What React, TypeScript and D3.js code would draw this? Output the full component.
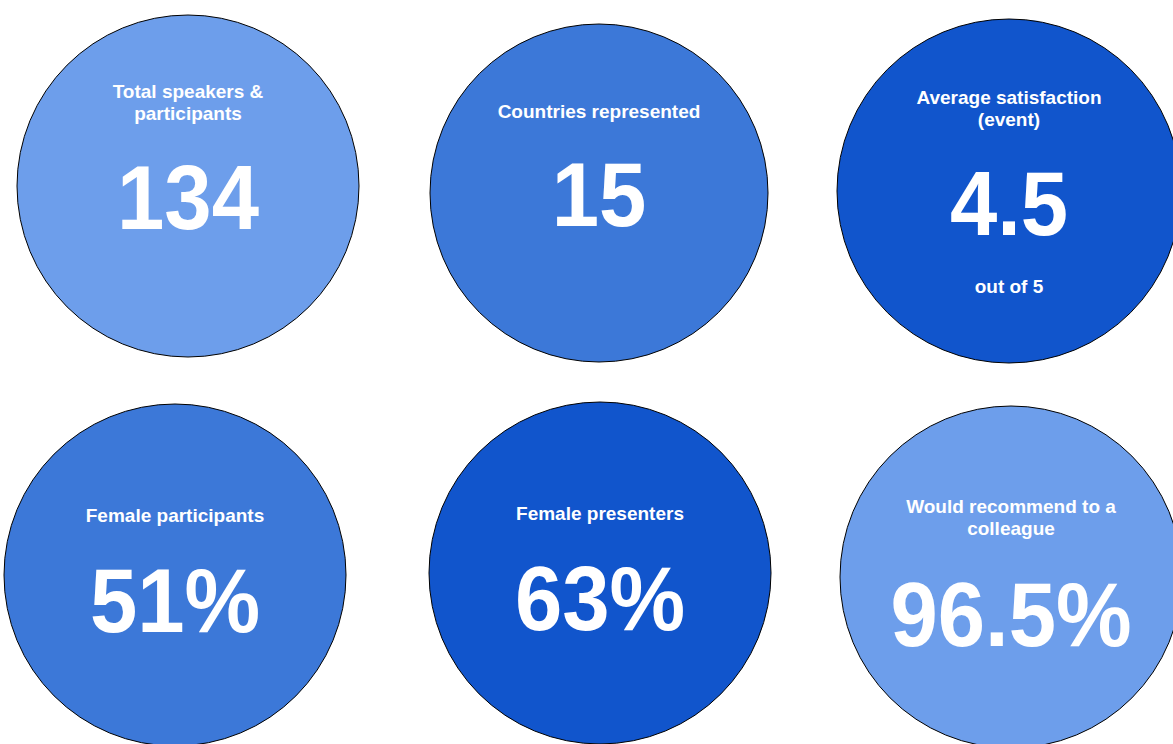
import React, { useEffect, useRef } from 'react';
import * as d3 from 'd3';

// --- Data ---
const titles: string[][] = [
	['Total speakers &', 'participants'],
	['Countries represented'],
	['Average satisfaction', '(event)'],
	['Female participants'],
	['Female presenters'],
	['Would recommend to a', 'colleague'],
];
const values: string[] = ['134', '15', '4.5', '51%', '63%', '96.5%'];
const notes: string[] = ['', '', 'out of 5', '', '', ''];
const fills: string[] = ['#6d9eeb', '#3c78d8', '#1155cc', '#3c78d8', '#1155cc', '#6d9eeb'];

// --- Layout (centre, radius, text baselines) ---
const layout = [
	{ cx: 188, cy: 186, r: 171, titleY: 98, valueY: 229, noteY: 0 },
	{ cx: 599, cy: 193, r: 169, titleY: 118, valueY: 226, noteY: 0 },
	{ cx: 1009, cy: 191, r: 172, titleY: 104, valueY: 235, noteY: 293 },
	{ cx: 175, cy: 575, r: 171, titleY: 522, valueY: 632, noteY: 0 },
	{ cx: 600, cy: 573, r: 171, titleY: 520, valueY: 630, noteY: 0 },
	{ cx: 1011, cy: 577, r: 171, titleY: 513, valueY: 646, noteY: 0 },
];

const W = 1173;
const H = 744;
const FONT = '"Liberation Sans", Arial, sans-serif';

const App: React.FC = () => {
	const ref = useRef<SVGSVGElement>(null);

	useEffect(() => {
		if (!ref.current) return;
		const svg = d3.select(ref.current);
		svg.selectAll('*').remove();

		const cards = values.map((v, i) => ({
			value: v,
			title: titles[i],
			note: notes[i],
			fill: fills[i],
			...layout[i],
		}));

		const g = svg
			.selectAll('g.card')
			.data(cards)
			.enter()
			.append('g')
			.attr('class', 'card');

		g.append('circle')
			.attr('cx', (d) => d.cx)
			.attr('cy', (d) => d.cy)
			.attr('r', (d) => d.r)
			.attr('fill', (d) => d.fill)
			.attr('stroke', '#000')
			.attr('stroke-width', 1);

		// titles + small note
		g.each(function (d) {
			const node = d3.select(this);
			const lines = d.title.map((t, j) => ({ t, y: d.titleY + j * 22 }));
			if (d.note) lines.push({ t: d.note, y: d.noteY });
			lines.forEach((l) => {
				node
					.append('text')
					.attr('x', d.cx)
					.attr('y', l.y)
					.attr('text-anchor', 'middle')
					.attr('fill', '#fff')
					.attr('font-family', FONT)
					.attr('font-weight', 'bold')
					.attr('font-size', 19)
					.text(l.t);
			});
		});

		// big number, slightly condensed like the original
		g.append('text')
			.attr('transform', (d) => `translate(${d.cx},${d.valueY}) scale(0.945,1)`)
			.attr('text-anchor', 'middle')
			.attr('fill', '#fff')
			.attr('font-family', FONT)
			.attr('font-weight', 'bold')
			.attr('font-size', 90)
			.text((d) => d.value);
	}, []);

	return (
		<svg
			ref={ref}
			width={W}
			height={H}
			style={{ position: 'absolute', left: 0, top: 0, background: '#fff' }}
		/>
	);
};

export default App;
